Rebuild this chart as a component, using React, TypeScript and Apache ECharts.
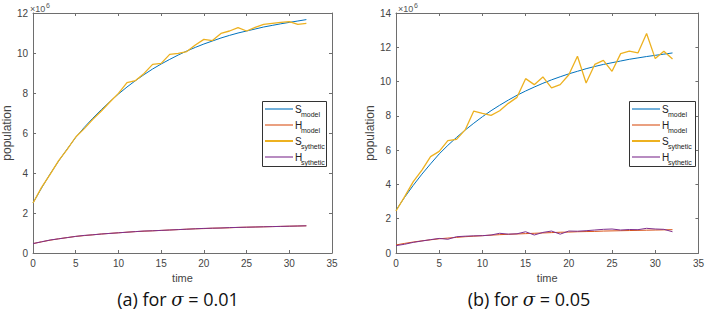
import React, { useEffect, useRef } from "react";
import * as echarts from "echarts";

const times = [0,1,2,3,4,5,6,7,8,9,10,11,12,13,14,15,16,17,18,19,20,21,22,23,24,25,26,27,28,29,30,31,32];

const sModel = [2.5,3.25,3.95,4.6,5.2,5.78,6.28,6.74,7.17,7.57,7.95,8.3,8.62,8.92,9.2,9.45,9.68,9.9,10.1,10.28,10.45,10.6,10.75,10.88,11.0,11.1,11.2,11.3,11.38,11.46,11.53,11.6,11.67];
const hModel = [0.47,0.56,0.64,0.71,0.77,0.83,0.87,0.91,0.95,0.98,1.01,1.04,1.07,1.09,1.11,1.13,1.15,1.17,1.19,1.21,1.22,1.24,1.25,1.26,1.28,1.29,1.3,1.31,1.32,1.33,1.34,1.35,1.36];

// sigma = 0.01
const sSynA = [2.5,3.28,3.93,4.62,5.18,5.8,6.22,6.68,7.1,7.55,7.98,8.52,8.62,8.98,9.43,9.48,9.93,9.98,10.07,10.4,10.68,10.62,10.98,11.1,11.27,11.1,11.28,11.43,11.48,11.53,11.57,11.43,11.48];
const hSynA = [0.47,0.56,0.65,0.71,0.77,0.83,0.88,0.91,0.95,0.98,1.01,1.04,1.07,1.1,1.11,1.13,1.15,1.17,1.19,1.21,1.23,1.24,1.25,1.27,1.28,1.29,1.3,1.31,1.32,1.33,1.34,1.35,1.36];

// sigma = 0.05
const sSynB = [2.45,3.29,4.16,4.84,5.62,5.93,6.55,6.63,7.18,8.28,8.15,8.03,8.3,8.73,9.08,10.17,9.82,10.27,9.63,9.82,10.4,11.48,9.92,11.0,11.24,10.6,11.63,11.77,11.67,12.8,11.34,11.77,11.32];
const hSynB = [0.43,0.51,0.62,0.7,0.78,0.85,0.8,0.95,0.98,1.0,1.01,1.05,1.15,1.1,1.12,1.24,1.05,1.2,1.28,1.1,1.28,1.27,1.3,1.34,1.38,1.4,1.34,1.37,1.36,1.44,1.4,1.38,1.24];

const xTicks = { min: 0, max: 35, interval: 5 };
const yMaxA = 12;
const yMaxB = 14;
const yInterval = 2;

const legendNames = [
  ["S", "model"],
  ["H", "model"],
  ["S", "sythetic"],
  ["H", "sythetic"],
];
const captions = ["(a) for ", "(b) for "];
const sigmas = ["0.01", "0.05"];

const COLORS = ["#0072BD", "#D95319", "#EDB120", "#7E2F8E"];
const AXIS = "#6e6e6e";
const LABEL = "#444444";
const FONT = "'Liberation Sans', Arial, sans-serif";

function pairs(vals: number[]) {
  return times.map((t, i) => [t, vals[i]]);
}

export default function App() {
  const ref = useRef<HTMLDivElement>(null);
  useEffect(() => {
    if (!ref.current) return;
    const chart = echarts.init(ref.current, null, { renderer: "svg" });
    const grids = [
      { left: 29, top: 13, width: 303, height: 240 },
      { left: 396, top: 13, width: 303, height: 240 },
    ];
    const xAxes: any[] = [];
    const yAxes: any[] = [];
    [0, 1].forEach((g) => {
      const base = {
        gridIndex: g,
        type: "value",
        ...xTicks,
        axisLine: { show: true, onZero: false, lineStyle: { color: AXIS, width: 1 } },
        axisTick: { show: true, inside: true, length: 3, lineStyle: { color: AXIS } },
        splitLine: { show: false },
      };
      xAxes.push({
        ...base,
        position: "bottom",
        name: "time",
        nameLocation: "middle",
        nameGap: 18,
        nameTextStyle: { color: LABEL, fontSize: 11, fontFamily: FONT },
        axisLabel: { color: LABEL, fontSize: 10, fontFamily: FONT, margin: 5 },
      });
      xAxes.push({ ...base, position: "top", axisLabel: { show: false } });
      const ymax = g === 0 ? yMaxA : yMaxB;
      const ybase = {
        gridIndex: g,
        type: "value",
        min: 0,
        max: ymax,
        interval: yInterval,
        axisLine: { show: true, onZero: false, lineStyle: { color: AXIS, width: 1 } },
        axisTick: { show: true, inside: true, length: 3, lineStyle: { color: AXIS } },
        splitLine: { show: false },
      };
      yAxes.push({
        ...ybase,
        position: "left",
        name: "population",
        nameLocation: "middle",
        nameGap: 16,
        nameTextStyle: { color: LABEL, fontSize: 12, fontFamily: FONT },
        axisLabel: { color: LABEL, fontSize: 10, fontFamily: FONT, margin: 5 },
      });
      yAxes.push({ ...ybase, position: "right", axisLabel: { show: false } });
    });

    const sets = [
      [sModel, hModel, sSynA, hSynA],
      [sModel, hModel, sSynB, hSynB],
    ];
    const series: any[] = [];
    sets.forEach((set, g) => {
      set.forEach((vals, k) => {
        series.push({
          type: "line",
          name: legendNames[k].join("_"),
          xAxisIndex: g * 2,
          yAxisIndex: g * 2,
          data: pairs(vals),
          showSymbol: false,
          symbol: "none",
          lineStyle: { color: COLORS[k], width: k === 2 ? 1.3 : 1 },
          itemStyle: { color: COLORS[k] },
          z: 2 + k,
        });
      });
    });

    const graphics: any[] = [];
    const legendBoxes = [
      { x: 262, w: 64, lx: 265, lw: 28, tx: 295 },
      { x: 629, w: 66, lx: 632, lw: 28, tx: 662 },
    ];
    const rowY = [109, 125, 141, 157];
    legendBoxes.forEach((b) => {
      graphics.push({
        type: "rect",
        shape: { x: b.x + 0.5, y: 101.5, width: b.w, height: 65 },
        style: { fill: "#ffffff", stroke: "#333333", lineWidth: 1 },
        z: 10,
      });
      rowY.forEach((y, k) => {
        graphics.push({
          type: "line",
          shape: { x1: b.lx, y1: y, x2: b.lx + b.lw, y2: y },
          style: { stroke: COLORS[k], lineWidth: k === 2 ? 2 : 1.1 },
          z: 11,
        });
        graphics.push({
          type: "text",
          x: b.tx,
          y: y,
          style: {
            text: legendNames[k][0],
            fontSize: 10,
            fontFamily: FONT,
            fill: "#222",
            align: "left",
            verticalAlign: "middle",
          },
          z: 11,
        });
        graphics.push({
          type: "text",
          x: b.tx + 6,
          y: y + 5,
          style: {
            text: legendNames[k][1],
            fontSize: 7,
            fontFamily: FONT,
            fill: "#222",
            align: "left",
            verticalAlign: "middle",
          },
          z: 11,
        });
      });
    });

    // x10^6 exponent labels
    [30, 398].forEach((x) => {
      graphics.push({
        type: "text",
        x: x,
        y: 9,
        style: { text: "×10", fontSize: 9, fontFamily: FONT, fill: "#555", align: "left", verticalAlign: "middle" },
      });
      graphics.push({
        type: "text",
        x: x + 16,
        y: 5,
        style: { text: "6", fontSize: 7, fontFamily: FONT, fill: "#555", align: "left", verticalAlign: "middle" },
      });
    });

    // captions
    [178, 529].forEach((cx, i) => {
      graphics.push({
        type: "text",
        x: cx,
        y: 299,
        style: {
          text: captions[i] + "{i|σ} = " + sigmas[i],
          fontSize: 18,
          fontFamily: "'Open Sans', sans-serif",
          fill: "#111",
          align: "center",
          verticalAlign: "middle",
          rich: {
            i: { fontSize: 18, fontStyle: "italic", fontFamily: "'DejaVu Serif', serif", fill: "#111" },
          },
        },
      });
    });

    chart.setOption({
      animation: false,
      backgroundColor: "#ffffff",
      grid: grids,
      xAxis: xAxes,
      yAxis: yAxes,
      series,
      graphic: graphics,
    });
    return () => chart.dispose();
  }, []);
  return (
    <div
      ref={ref}
      style={{ position: "fixed", left: 0, top: 0, width: 707, height: 311 }}
    />
  );
}
